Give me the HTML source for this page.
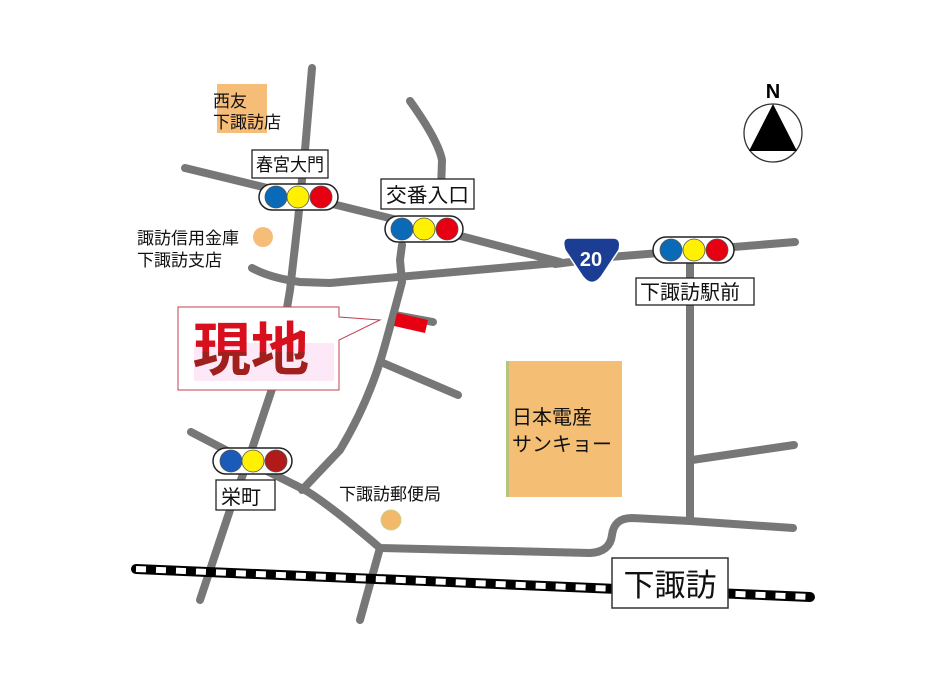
<!DOCTYPE html>
<html><head><meta charset="utf-8"><style>
html,body{margin:0;padding:0;background:#fff;}
svg{display:block;}
text{font-family:"Liberation Sans","Noto Sans CJK JP",sans-serif;}
</style></head><body>
<svg width="947" height="681" viewBox="0 0 947 681" xmlns="http://www.w3.org/2000/svg">
<rect width="947" height="681" fill="#fff"/>
<rect x="217" y="84" width="50" height="49" fill="#f6bd79"/>
<rect x="506" y="361" width="116" height="136" fill="#f4bf74"/>
<rect x="506" y="361" width="3" height="136" fill="#b8c27a"/>
<g fill="none" stroke="#777" stroke-width="8" stroke-linecap="round" stroke-linejoin="round">
<path d="M185 168 L300 196 L430 228 L560 262"/>
<path d="M555 264 L610 257 L795 242"/>
<path d="M252 268 Q270 278 300 282 L330 283 L555 263"/>
<path d="M312 68 L305 150 L298 220 L290 290 L275 380 L250 455 L230 510 L200 600"/>
<path d="M410 101 Q438 140 442 160 L441 190"/>
<path d="M402 245 L400 260 L402 282 Q392 320 385 345 Q370 400 340 450 L302 490"/>
<path d="M383 363 L458 395"/>
<path d="M395 315 L433 322"/>
<path d="M191 432 L245 460 L305 490 Q330 505 380 548 L590 553 Q610 552 612 535 Q614 518 632 518 L690 521 L793 528"/>
<path d="M380 548 L360 620"/>
<path d="M690 250 L690 520"/>
<path d="M692 460 L794 445"/>
</g>
<polygon points="397,313 428,320 425,333 394,326" fill="#e60012"/>
<line x1="136" y1="569" x2="810" y2="597" stroke="#000" stroke-width="10" stroke-linecap="round"/>
<line x1="136" y1="569" x2="810" y2="597" stroke="#fff" stroke-width="6" stroke-dasharray="10 10"/>
<rect x="612" y="558" width="116" height="50" fill="#fff" stroke="#333" stroke-width="1.5"/>
<text x="670" y="596" font-size="31" text-anchor="middle" fill="#111">下諏訪</text>
<path d="M569 238 L613 238 Q622 238 619 250 L601 277 Q592 288 583 277 L565 250 Q561 238 569 238 Z" fill="#1b3e94" stroke="#fff" stroke-width="1.5"/>
<text x="591" y="266" font-size="20" font-weight="bold" fill="#fff" text-anchor="middle">20</text>
<g stroke="#222" stroke-width="1.5">
<rect x="259" y="184" width="79" height="26" rx="13" fill="#fff"/>
<rect x="385" y="216" width="78" height="26" rx="13" fill="#fff"/>
<rect x="653" y="237" width="81" height="26" rx="13" fill="#fff"/>
<rect x="213" y="448" width="79" height="26" rx="13" fill="#fff"/>
</g>
<g stroke="#555" stroke-width="0.8">
<circle cx="276" cy="197" r="11" fill="#0a6ab8"/><circle cx="298" cy="197" r="11" fill="#fff100"/><circle cx="321" cy="197" r="11" fill="#e60012"/>
<circle cx="402" cy="229" r="11" fill="#0a6ab8"/><circle cx="424" cy="229" r="11" fill="#fff100"/><circle cx="447" cy="229" r="11" fill="#e60012"/>
<circle cx="671" cy="250" r="11" fill="#0a6ab8"/><circle cx="694" cy="250" r="11" fill="#fff100"/><circle cx="717" cy="250" r="11" fill="#e60012"/>
<circle cx="231" cy="461" r="11" fill="#1a5ab8"/><circle cx="253" cy="461" r="11" fill="#fff100"/><circle cx="276" cy="461" r="11" fill="#b21a1a"/>
</g>
<g fill="#fff" stroke="#222" stroke-width="1.3">
<rect x="252" y="150" width="76" height="28"/>
<rect x="381" y="179" width="93" height="30"/>
<rect x="636" y="278" width="118" height="27"/>
<rect x="216" y="480" width="59" height="30"/>
</g>
<g font-size="20" fill="#111">
<text x="256" y="171" font-size="18" textLength="68" lengthAdjust="spacingAndGlyphs">春宮大門</text>
<text x="386" y="202" textLength="83" lengthAdjust="spacingAndGlyphs">交番入口</text>
<text x="640" y="299">下諏訪駅前</text>
<text x="221" y="504">栄町</text>
<text x="213" y="107" font-size="17">西友</text>
<text x="213" y="128" font-size="17">下諏訪店</text>
<text x="137" y="244" font-size="17">諏訪信用金庫</text>
<text x="137" y="266" font-size="17">下諏訪支店</text>
<text x="339" y="500" font-size="17">下諏訪郵便局</text>
<text x="512" y="424" font-size="20">日本電産</text>
<text x="512" y="451" font-size="20">サンキョー</text>
</g>
<circle cx="263" cy="237" r="10" fill="#f6bd79"/>
<circle cx="391" cy="520" r="10" fill="#f2b96a" stroke="#c9d08a" stroke-width="1"/>
<path d="M178 307 L339 307 L339 317 L380 320 L339 340 L339 390 L178 390 Z" fill="#fff" stroke="#c04050" stroke-width="1"/>
<rect x="194" y="343" width="140" height="38" fill="#fde8f8"/>
<defs><clipPath id="lower"><rect x="190" y="352" width="150" height="40"/></clipPath></defs>
<text x="193" y="370" font-size="58" font-weight="bold" fill="#d8101e">現地</text>
<text x="193" y="370" font-size="58" font-weight="bold" fill="#a0201e" clip-path="url(#lower)">現地</text>
<circle cx="773" cy="133" r="29" fill="#fff" stroke="#333" stroke-width="1.3"/>
<polygon points="773,104 749,151 797,151" fill="#000"/>
<text x="773" y="98" font-size="20" font-weight="bold" text-anchor="middle" fill="#000">N</text>
</svg>
</body></html>
